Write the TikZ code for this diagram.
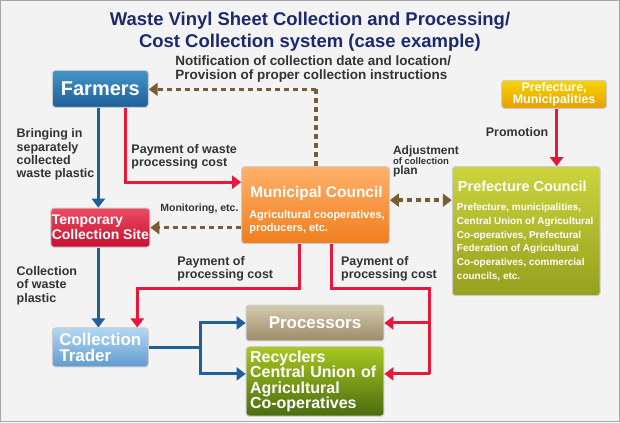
\documentclass[tikz,border=0pt]{standalone}
\usepackage{fontspec}
\setmainfont{Liberation Sans}
\usetikzlibrary{arrows.meta}
\definecolor{bg}{HTML}{F3F3F3}
\definecolor{navy}{HTML}{1A2A6C}
\definecolor{txt}{HTML}{333333}
\definecolor{brn}{HTML}{7A5C32}
\definecolor{redl}{HTML}{E8173C}
\definecolor{bluel}{HTML}{1F5F9A}
\definecolor{bluelt}{HTML}{4BA6DC}
\definecolor{pctop}{HTML}{CCD43C}
\definecolor{pcbot}{HTML}{95A01E}
\definecolor{rctop}{HTML}{A8C820}
\definecolor{rcbot}{HTML}{4A6C10}
\definecolor{prtop}{HTML}{D4CBAE}
\definecolor{prbot}{HTML}{9C8C68}
\definecolor{cttop}{HTML}{B4D8F2}
\definecolor{ctbot}{HTML}{5F9AD0}
\definecolor{pftop}{HTML}{F7D400}
\definecolor{pfbot}{HTML}{E89E00}
\definecolor{mntop}{HTML}{FFB06A}
\definecolor{mnbot}{HTML}{F07E1E}
\definecolor{tptop}{HTML}{EE4A62}
\definecolor{tpbot}{HTML}{C4102E}
\tikzset{
  box/.style={draw=white!80!black,line width=1pt,rounded corners=3pt,text=white,font=\bfseries,inner sep=3pt},
  lbl/.style={text=txt,font=\bfseries\fontsize{12.5}{13.5}\selectfont,align=left,anchor=north west,inner sep=0pt},
  dsh/.style={brn,line width=3.5pt,dash pattern=on 5pt off 4pt,-{Triangle[width=13pt,length=9pt]}},
  redarr/.style={redl,line width=3pt,-{Triangle[width=13pt,length=9pt]}},
  bluearr/.style={bluel,line width=3pt,-{Triangle[width=13pt,length=9pt]}},
}
\begin{document}
\begin{tikzpicture}[x=1pt,y=-1pt]
\fill[bg,draw=black!35,line width=1pt] (0,0) rectangle (620,422);
\useasboundingbox (0,0) rectangle (620,422);
\node[text=navy,font=\bfseries\fontsize{18.5}{22}\selectfont,align=center] (title) at (310,31) {Waste Vinyl Sheet Collection and Processing/\\Cost Collection system (case example)};
% boxes
\node[box,top color=bluelt!90!black,bottom color=bluel,minimum width=96pt,minimum height=37pt,font=\bfseries\fontsize{20}{20}\selectfont] (farm) at (100,88.5) {Farmers};
\node[box,top color=pftop,bottom color=pfbot,minimum width=105pt,minimum height=28pt,font=\bfseries\fontsize{12.5}{12.5}\selectfont,align=center,inner sep=1pt] (pref) at (554.5,94) {Prefecture,\\Municipalities};
\node[box,top color=mntop,bottom color=mnbot,minimum width=148pt,minimum height=77pt,anchor=north west] (mun) at (241,166) {};
\node[text=white,font=\bfseries\fontsize{15.5}{16}\selectfont,anchor=west,inner sep=0pt] (munt) at (250,193) {Municipal Council};
\node[text=white,font=\bfseries\fontsize{11}{13}\selectfont,anchor=north west,align=left,inner sep=0pt] (muns) at (249,210) {Agricultural cooperatives,\\producers, etc.};
\node[box,top color=pctop,bottom color=pcbot,minimum width=148pt,minimum height=129pt,anchor=north west] (pc) at (452,166) {};
\node[text=white,font=\bfseries\fontsize{14.5}{15}\selectfont,anchor=west,inner sep=0pt] (pct) at (458,186) {Prefecture Council};
\node[text=white,font=\bfseries\fontsize{10}{13.8}\selectfont,anchor=north west,align=left,inner sep=0pt] (pcs) at (457,203) {Prefecture, municipalities,\\Central Union of Agricultural\\Co-operatives, Prefectural\\Federation of Agricultural\\Co-operatives, commercial\\councils, etc.};
\node[box,top color=tptop,bottom color=tpbot,minimum width=96pt,minimum height=39pt,font=\bfseries\fontsize{14}{15}\selectfont,align=left,inner sep=1pt] (temp) at (100,227.5) {Temporary\\Collection Site};
\node[box,top color=cttop,bottom color=ctbot,minimum width=96pt,minimum height=39pt,font=\bfseries\fontsize{17}{16}\selectfont,align=left,inner sep=1pt] (ct) at (100,347.5) {Collection\\Trader};
\node[box,top color=prtop,bottom color=prbot,minimum width=138pt,minimum height=36pt,font=\bfseries\fontsize{17}{18}\selectfont] (proc) at (315,323) {Processors};
\node[box,top color=rctop,bottom color=rcbot,minimum width=138pt,minimum height=67pt,font=\bfseries\fontsize{16}{15.5}\selectfont,align=left,text width=130pt,inner sep=4pt] (rec) at (315,381.5) {Recyclers\\Central Union of\\Agricultural\\Co-operatives};
% labels
\node[lbl,font=\bfseries\fontsize{13.5}{14}\selectfont] (nt) at (175,55) {Notification of collection date and location/\\Provision of proper collection instructions};
\node[lbl] (prom) at (486,127) {Promotion};
\node[lbl] (bring) at (16,128) {Bringing in\\separately\\collected\\waste plastic};
\node[lbl] (pw) at (131,144) {Payment of waste\\processing cost};
\node[lbl,font=\bfseries\fontsize{10.5}{11}\selectfont] (mon) at (160,204) {Monitoring, etc.};
\node[lbl,align=left,font=\bfseries\fontsize{12}{12}\selectfont] (adj) at (393,145) {Adjustment\\[-2pt]{\fontsize{9.5}{10}\selectfont of collection}\\[-2pt]plan};
\node[lbl] (col) at (16,266) {Collection\\of waste\\plastic};
\node[lbl] (p1) at (177,256) {Payment of\\processing cost};
\node[lbl] (p2) at (341,256) {Payment of\\processing cost};
% coordinates
\coordinate (nc) at (316,89);
\coordinate (rf1) at (125,182);
\coordinate (ra) at (299,288);
\coordinate (rb) at (137,288);
\coordinate (rc) at (332,288);
\coordinate (rd) at (430,288);
\coordinate (rj) at (430,323);
\coordinate (rk) at (430,374);
\coordinate (bj) at (200,348);
\coordinate (bu) at (200,323);
\coordinate (bd) at (200,374);
% connectors
\draw[dsh,-] (mun.north -| nc) -- (nc);
\draw[dsh] (nc) -- (farm.east |- nc);
\draw[dsh] (mun.west |- temp.east) -- (temp.east);
\draw[dsh,{Triangle[width=13pt,length=9pt]}-{Triangle[width=13pt,length=9pt]}] (mun.east |- 0,200) -- (pc.west |- 0,200);
\draw[redarr] (pref.south -| 557,0) -- (pc.north -| 557,0);
\draw[bluearr] (farm.south -| 98,0) -- (temp.north -| 98,0);
\draw[bluearr] (temp.south -| 98,0) -- (ct.north -| 98,0);
\draw[redarr] (farm.south -| rf1) -- (rf1) -- (mun.west |- rf1);
\draw[redarr] (mun.south -| ra) -- (ra) -- (rb) -- (ct.north -| rb);
\draw[redarr,-] (mun.south -| rc) -- (rc) -- (rd) -- (rk);
\draw[redarr] (rj) -- (proc.east |- rj);
\draw[redarr] (rk) -- (rec.east |- rk);
\draw[bluearr,-] (ct.east |- bj) -- (bj);
\draw[bluearr] (bd) -- (bu) -- (proc.west |- bu);
\draw[bluearr] (bu) -- (bd) -- (rec.west |- bd);
\end{tikzpicture}
\end{document}
